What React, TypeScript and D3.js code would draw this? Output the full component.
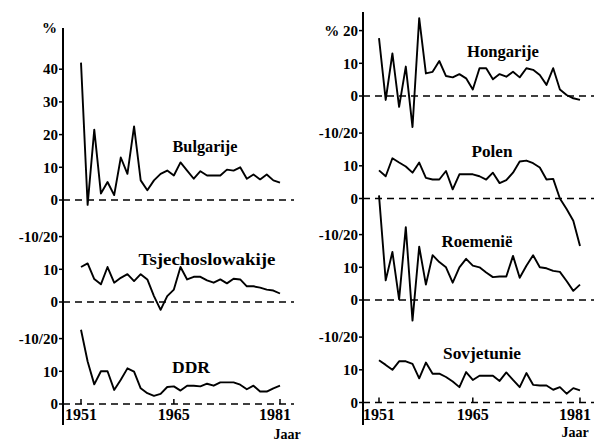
import React from 'react';
import * as d3 from 'd3';

// jaarlijkse groei (%), 1951-1981
const years = d3.range(1951, 1982);
const yearTicks = [1951, 1965, 1981];

const bulgarije = [42, -1.5, 21.5, 2, 5.5, 1.5, 13, 8, 22.5, 6, 3, 6, 8, 9, 7.5, 11.5, 9, 6.5, 8.8, 7.5, 7.5, 7.5, 9.3, 9, 10, 6.5, 7.8, 6.3, 7.8, 6, 5.3];
const tsjechoslowakije = [10.7, 11.8, 7, 5.4, 10.7, 5.9, 7.4, 8.5, 6.4, 8.5, 6.9, 1.8, -2.4, 1.8, 3.8, 10.7, 6.9, 7.7, 7.7, 6.6, 5.9, 6.9, 5.7, 7.1, 6.9, 4.8, 4.8, 4.4, 3.8, 3.5, 2.6];
const ddr = [22.7, 13, 6, 10, 10, 4.3, 7.4, 10.9, 9.9, 4.8, 3.3, 2.5, 3.1, 5.2, 5.4, 4.1, 5.6, 5.6, 5.4, 6.2, 5.6, 6.6, 6.6, 6.6, 5.9, 4.5, 5.6, 3.8, 3.8, 4.8, 5.6];
const hongarije = [17.7, -1.2, 13, -3.3, 9, -9.5, 23.8, 6.9, 7.4, 10.7, 6.1, 5.7, 6.7, 5.4, 2, 8.5, 8.5, 5.1, 6.7, 5.9, 7.4, 5.7, 8.5, 8, 6.4, 3.4, 8.5, 2, 0.3, -0.7, -1.2];
const polen = [8.6, 6.8, 12.3, 11, 9.8, 7.9, 11, 6.3, 5.8, 5.8, 8.4, 2.8, 7.4, 7.4, 7.4, 6.8, 5.8, 7.9, 4.7, 5.6, 7.9, 11.3, 11.6, 10.8, 9.5, 5.8, 6, 0, -3.2, -6.8, -14.5];
const roemenie = [32, 6, 14.7, 0.2, 22.3, -6.3, 16.3, 4.7, 13.7, 11.6, 10, 5.3, 10, 12.6, 10.5, 10, 8.4, 7, 7.2, 7.2, 13.5, 6.8, 10.5, 13.7, 10, 9.7, 8.9, 8.6, 5.8, 2.8, 4.7];
const sovjetunie = [12.9, 11.5, 10, 12.6, 12.6, 11.8, 7.4, 12.2, 8.8, 8.8, 7.8, 6.4, 4.7, 9.3, 6.9, 8.2, 8.2, 8.2, 6.6, 9.2, 6.9, 4.7, 9, 5.4, 5.2, 5.2, 3.9, 4.7, 2.7, 4.4, 3.7];

const firstTicks = [0, 10, 20, 30, 40];
const otherTicks = [0, 10, 20];

const FONT = '"Liberation Serif", "DejaVu Serif", serif';
const unit = 3.27; // px per procentpunt

type Panel = {
  name: string;
  values: number[];
  zero: number;
  ticks: number[];
  tickLabel: (v: number) => string;
  lx: number;
  ly: number;
  lw: number;
};

const split = (v: number) => (v === 20 ? '-10/20' : `${v}`);

const columns = [
  {
    axisX: 63,
    axisTop: 28,
    x0: 81,
    x1: 280,
    dashEnd: 294,
    percentTop: true,
    jaar: [287, 439],
    panels: [
      { name: 'Bulgarije', values: bulgarije, zero: 200, ticks: firstTicks, tickLabel: (v: number) => `${v}`, lx: 205, ly: 152, lw: 65 },
      { name: 'Tsjechoslowakije', values: tsjechoslowakije, zero: 302, ticks: otherTicks, tickLabel: split, lx: 207, ly: 265, lw: 137 },
      { name: 'DDR', values: ddr, zero: 404, ticks: otherTicks, tickLabel: split, lx: 191, ly: 373, lw: 38 },
    ] as Panel[],
  },
  {
    axisX: 363,
    axisTop: 12,
    x0: 379,
    x1: 580,
    dashEnd: 594,
    percentTop: false,
    jaar: [575, 437],
    panels: [
      { name: 'Hongarije', values: hongarije, zero: 96, ticks: otherTicks, tickLabel: (v: number) => (v === 20 ? '% 20' : `${v}`), lx: 503, ly: 57, lw: 72 },
      { name: 'Polen', values: polen, zero: 198.5, ticks: otherTicks, tickLabel: split, lx: 492, ly: 157, lw: 41 },
      { name: 'Roemenië', values: roemenie, zero: 300, ticks: otherTicks, tickLabel: split, lx: 477, ly: 247, lw: 71 },
      { name: 'Sovjetunie', values: sovjetunie, zero: 402.5, ticks: otherTicks, tickLabel: split, lx: 482, ly: 359, lw: 78 },
    ] as Panel[],
  },
];

const axisBottom = 425;

export default function App() {
  return (
    <svg
      width={594}
      height={441}
      style={{ position: 'absolute', left: 0, top: 0, background: '#fff' }}
      fontFamily={FONT}
    >
      {columns.map((col, ci) => {
        const x = d3.scaleLinear().domain([1951, 1981]).range([col.x0, col.x1]);
        const last = col.panels[col.panels.length - 1];
        return (
          <g key={ci}>
            <line x1={col.axisX} x2={col.axisX} y1={col.axisTop} y2={axisBottom} stroke="#000" strokeWidth={2} />
            {col.percentTop && (
              <text x={57} y={33} textAnchor="end" fontSize={15} fontWeight="bold">%</text>
            )}
            {col.panels.map((p) => {
              const y = d3.scaleLinear().domain([0, 10]).range([p.zero, p.zero - unit * 10]);
              const line = d3
                .line<number>()
                .x((_, i) => x(years[i]))
                .y((d) => y(d));
              return (
                <g key={p.name}>
                  <line
                    x1={col.axisX}
                    x2={col.dashEnd}
                    y1={y(0)}
                    y2={y(0)}
                    stroke="#000"
                    strokeWidth={1.3}
                    strokeDasharray="7,5"
                  />
                  {p.ticks.map((t) => (
                    <g key={t}>
                      <line x1={col.axisX - 4} x2={col.axisX} y1={y(t)} y2={y(t)} stroke="#000" strokeWidth={1.5} />
                      <text
                        x={col.axisX - 5}
                        y={y(t)}
                        dy="0.35em"
                        textAnchor="end"
                        fontSize={15}
                        fontWeight="bold"
                      >
                        {p.tickLabel(t)}
                      </text>
                    </g>
                  ))}
                  <path d={line(p.values) || ''} fill="none" stroke="#000" strokeWidth={1.9} strokeLinejoin="round" />
                  <text
                    x={p.lx}
                    y={p.ly}
                    textAnchor="middle"
                    fontSize={17}
                    fontWeight="bold"
                    textLength={p.lw}
                    lengthAdjust="spacingAndGlyphs"
                  >
                    {p.name}
                  </text>
                </g>
              );
            })}
            {yearTicks.map((yr) => (
              <g key={yr}>
                <line x1={x(yr)} x2={x(yr)} y1={last.zero - 5} y2={last.zero} stroke="#000" strokeWidth={1.5} />
                <text
                  x={x(yr) + (yr === 1981 ? -5 : 0)}
                  y={420}
                  textAnchor="middle"
                  fontSize={17}
                  fontWeight="bold"
                  textLength={32}
                  lengthAdjust="spacingAndGlyphs"
                >
                  {yr}
                </text>
              </g>
            ))}
            <text x={col.jaar[0]} y={col.jaar[1]} textAnchor="middle" fontSize={14} fontWeight="bold">
              Jaar
            </text>
          </g>
        );
      })}
    </svg>
  );
}
